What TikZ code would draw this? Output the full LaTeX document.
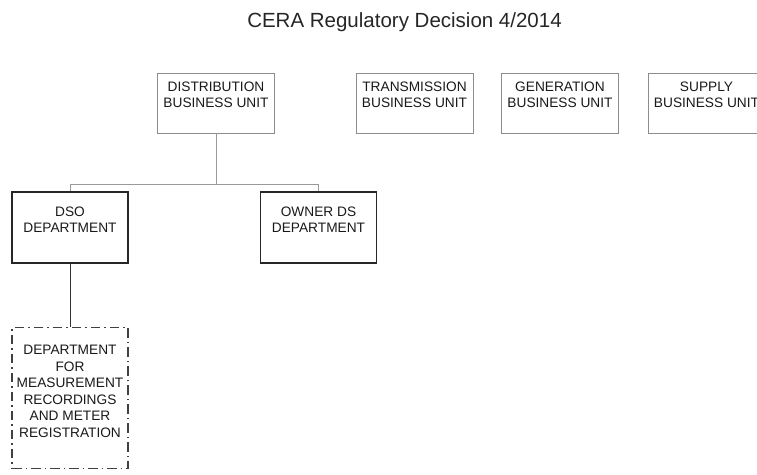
\documentclass[tikz,border=0pt]{standalone}
\usepackage{fontspec}
\setmainfont{Liberation Sans}
\begin{document}
\begin{tikzpicture}[x=1pt,y=-1pt,
    unitbox/.style={draw=black!45,line width=0.9pt,minimum width=117pt,minimum height=60pt,inner sep=0pt},
    deptbox/.style={draw=black!85,line width=1.1pt,minimum width=116pt,minimum height=71pt,inner sep=0pt},
    subbox/.style={draw=black!75,line width=1.1pt,dash pattern=on 9.5pt off 4pt on 1.5pt off 4pt,minimum width=116pt,minimum height=141pt,inner sep=0pt},
    boxtext/.style={align=center,yshift=8pt,text=black!90,font=\fontsize{13.7}{16.5}\selectfont},
    linkgray/.style={draw=black!40,line width=0.8pt},
    linkdark/.style={draw=black!80,line width=1pt}]
    \useasboundingbox (0,0) rectangle (757,474);
    \clip (0,0) rectangle (757,474);
    \node[anchor=base,font=\fontsize{20.5}{24}\selectfont,text=black!85] (title) at (404.5,27) {CERA Regulatory Decision 4/2014};
    \node[unitbox,label={[boxtext]center:DISTRIBUTION\\BUSINESS UNIT}] (dist) at (216,103) {};
    \node[unitbox,label={[boxtext]center:TRANSMISSION\\BUSINESS UNIT}] (trans) at (414.5,103) {};
    \node[unitbox,label={[boxtext]center:GENERATION\\BUSINESS UNIT}] (gen) at (560,103) {};
    \node[unitbox,label={[boxtext]center:SUPPLY\\BUSINESS UNIT}] (supply) at (706.5,103) {};
    \node[deptbox,label={[boxtext]center:DSO\\DEPARTMENT}] (dso) at (70,227.5) {};
    \node[deptbox,label={[boxtext]center:OWNER DS\\DEPARTMENT}] (owner) at (318.5,227.5) {};
    \node[subbox,label={[boxtext,yshift=-1.5pt]center:DEPARTMENT\\FOR\\MEASUREMENT\\RECORDINGS\\AND METER\\REGISTRATION}] (meter) at (70,398) {};
    \coordinate (bus) at (216,184);
    \draw[linkgray] (dist.south) -- (bus);
    \draw[linkgray] (bus) -| (dso.north);
    \draw[linkgray] (bus) -| (owner.north);
    \draw[linkdark] (dso.south) -- (meter.north);
\end{tikzpicture}
\end{document}
